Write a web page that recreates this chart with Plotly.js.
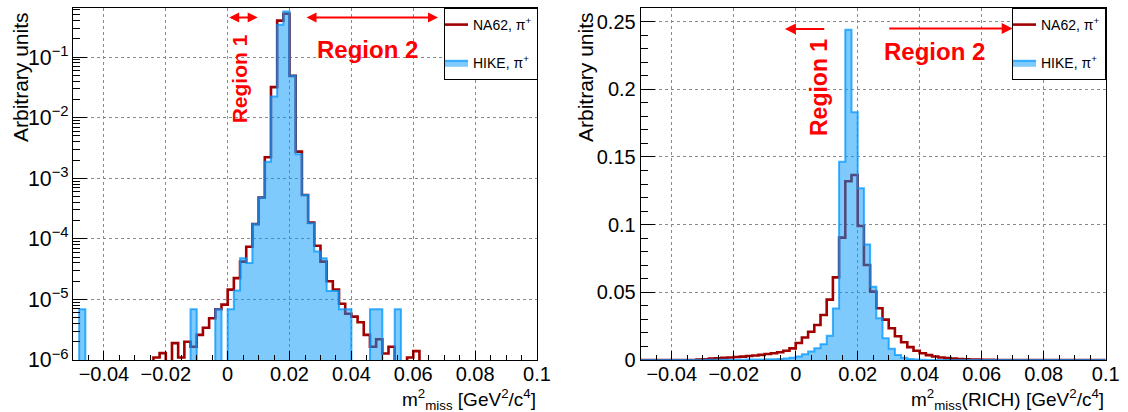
<!DOCTYPE html>
<html><head><meta charset="utf-8">
<script src="https://cdn.plot.ly/plotly-3.0.1.min.js"></script>
<style>html,body{margin:0;padding:0;background:#fff}#chart{width:1128px;height:412px}</style>
</head><body><div id="chart"></div>
<script>
// Histogram binning (both panels): 75 bins of 0.002 from -0.05 to 0.10
const binLow = -0.05;
const binWidth = 0.002;
const nBins = 75;

// Left panel (log scale): m2_miss
const na62Log = [
  0,0,0,0,0,0,0,0,0,0,
  0,0,0,1.1e-6,1.3e-6,0,1.9e-6,1.1e-6,2.0e-6,1.65e-6,
  2.6e-6,3.4e-6,4.9e-6,6.9e-6,8.2e-6,1.45e-5,2.25e-5,4.2e-5,7.4e-5,1.75e-4,
  4.8e-4,2.22e-3,3.19e-2,0.40,0.52,0.049,2.75e-3,5.3e-4,1.85e-4,7.7e-5,
  4.2e-5,2.0e-5,1.46e-5,8.5e-6,5.8e-6,5.2e-6,4.2e-6,2.6e-6,1.65e-6,2.2e-6,
  1.28e-6,1.65e-6,0,0,1.1e-6,1.4e-6,0,0,0,0,
  0,0,0,0,0,0,0,0,0,0,
  0,0,0,0,0
];
const hikeLog = [
  0,6.9e-6,0,0,0,0,0,0,0,0,
  0,0,0,0,0,0,0,0,0,6.9e-6,
  0,0,0,6.9e-6,0,6.9e-6,1.4e-5,4.8e-5,4.0e-5,1.75e-4,
  4.8e-4,1.88e-3,2.23e-2,0.342,0.567,0.049,2.5e-3,5.3e-4,1.8e-4,6.2e-5,
  4.8e-5,1.38e-5,1.38e-5,6.9e-6,6.9e-6,0,0,0,6.9e-6,6.9e-6,
  0,0,6.9e-6,0,0,0,0,0,0,0,
  0,0,0,0,0,0,0,0,0,0,
  0,0,0,0,0
];

// Right panel (linear scale): m2_miss(RICH)
const na62Lin = [
  0,0,0,0,0,0,0,0,0,0.0003,
  0.0006,0.0010,0.0013,0.0016,0.0019,0.0022,0.0025,0.0029,0.0033,0.0038,
  0.0044,0.0050,0.0057,0.0068,0.0086,0.0126,0.0166,0.0209,0.0258,0.0332,
  0.0446,0.0610,0.0904,0.1320,0.1366,0.0990,0.0702,0.0505,0.0382,0.0298,
  0.0234,0.0175,0.0131,0.0095,0.0068,0.0050,0.0036,0.0026,0.0019,0.0014,
  0.0010,0.0007,0.0005,0.0004,0.0003,0.0002,0.0001,0,0,0,
  0,0,0,0,0,0,0,0,0,0,
  0,0,0,0,0
];
const hikeLin = [
  0,0,0,0,0,0,0,0,0,0,
  0.0001,0.0001,0.0001,0.0001,0.0001,0.0002,0.0002,0.0003,0.0003,0.0004,
  0.0005,0.0006,0.0008,0.0011,0.0017,0.0025,0.0042,0.0062,0.0086,0.0116,
  0.0180,0.0380,0.1465,0.2440,0.1830,0.1268,0.0854,0.0541,0.0308,0.0160,
  0.0083,0.0037,0.0016,0.0007,0.0003,0.0001,0,0,0,0,
  0,0,0,0,0,0,0,0,0,0,
  0,0,0,0,0,0,0,0,0,0,
  0,0,0,0,0
];

const seriesNames = ['NA62, π<sup>+</sup>', 'HIKE, π<sup>+</sup>'];
const xTitleLeft = 'm<sup>2</sup><sub>miss</sub> [GeV<sup>2</sup>/c<sup>4</sup>]';
const xTitleRight = 'm<sup>2</sup><sub>miss</sub>(RICH) [GeV<sup>2</sup>/c<sup>4</sup>]';
const yTitle = 'Arbitrary units';

const edges = [];
for (let k = 0; k <= nBins; k++) edges.push(+(binLow + k * binWidth).toFixed(4));

function steps(vals, floor) {
  const xs = [edges[0]], ys = [floor];
  for (let i = 0; i < vals.length; i++) { xs.push(edges[i]); ys.push(vals[i] > 0 ? vals[i] : floor); }
  xs.push(edges[vals.length]); ys.push(vals[vals.length-1] > 0 ? vals[vals.length-1] : floor);
  xs.push(edges[vals.length]); ys.push(floor);
  return {x: xs, y: ys};
}

const RED = '#a00000';
const BLUE_LINE = 'rgba(0,150,255,0.75)';
const BLUE_FILL = 'rgba(0,150,250,0.5)';
const FONT = 'Liberation Sans, Arial, Helvetica, sans-serif';

function redTrace(vals, floor, xa, ya, leg, grp) {
  const s = steps(vals, floor);
  return {type:'scatter', mode:'lines', x:s.x, y:s.y, xaxis:xa, yaxis:ya, name:seriesNames[0],
    line:{shape:'hv', color:RED, width:2.6}, legend:leg, legendgroup:grp, hoverinfo:'skip'};
}
function blueTrace(vals, floor, xa, ya, leg, grp) {
  const s = steps(vals, floor);
  return {type:'scatter', mode:'lines', x:s.x, y:s.y, xaxis:xa, yaxis:ya, name:seriesNames[1],
    line:{shape:'hv', color:BLUE_LINE, width:2}, fill:'toself', fillcolor:BLUE_FILL,
    legend:leg, legendgroup:grp, hoverinfo:'skip'};
}

const data = [
  redTrace(na62Log, 1e-8, 'x', 'y', 'legend', 'a1'),
  blueTrace(hikeLog, 1e-8, 'x', 'y', 'legend', 'a2'),
  redTrace(na62Lin, 0, 'x2', 'y2', 'legend2', 'b1'),
  blueTrace(hikeLin, 0, 'x2', 'y2', 'legend2', 'b2')
];

const W = 1128, H = 412;
const yDom = [1 - 360/H, 1 - 8/H];
const common = {
  ticks:'inside', tickcolor:'black', tickwidth:1, showline:true, linecolor:'black', linewidth:1, mirror:true,
  showgrid:true, gridcolor:'#8a8a8a', griddash:'dot', gridwidth:1, zeroline:false,
  tickfont:{family:FONT, size:20, color:'black'}
};
const xCommon = Object.assign({}, common, {range:[-0.05, 0.1], dtick:0.02, tick0:0, ticklen:9,
  ticklabelstandoff:-4,
  minor:{dtick:0.005, tick0:0, ticks:'inside', ticklen:5, tickcolor:'black', showgrid:false}});

const legendCommon = {xanchor:'right', y:1-8/H, yanchor:'top', bgcolor:'white', bordercolor:'black', borderwidth:1,
  font:{family:FONT, size:14, color:'black'}, traceorder:'grouped', tracegroupgap:17, itemwidth:30, indentation:-12};

const layout = {
  width:W, height:H, margin:{l:0, r:0, t:0, b:0},
  paper_bgcolor:'white', plot_bgcolor:'white',
  font:{family:FONT, color:'black'},
  xaxis:Object.assign({}, xCommon, {domain:[73/W, 537/W], anchor:'y'}),
  yaxis:Object.assign({}, common, {domain:yDom, anchor:'x', type:'log', range:[-6, -0.19], dtick:1,
    exponentformat:'power', showexponent:'all', ticklen:14, tickfont:{family:FONT, size:17, color:'black'},
    minor:{dtick:'D1', ticks:'inside', ticklen:7, tickcolor:'black', showgrid:false}}),
  xaxis2:Object.assign({}, xCommon, {domain:[640.7/W, 1105.7/W], anchor:'y2'}),
  yaxis2:Object.assign({}, common, {domain:yDom, anchor:'x2', range:[0, 0.26], dtick:0.05, tick0:0, ticklen:14,
    minor:{dtick:0.01, tick0:0, ticks:'inside', ticklen:7, tickcolor:'black', showgrid:false}}),
  legend:Object.assign({}, legendCommon, {x:538/W}),
  legend2:Object.assign({}, legendCommon, {x:1106/W}),
  showlegend:true,
  annotations:[
    // axis titles
    {xref:'paper', yref:'paper', x:20/W, y:1-10/H, xanchor:'center', yanchor:'top', textangle:-90, showarrow:false,
      text:yTitle, font:{family:FONT, size:21, color:'black'}},
    {xref:'paper', yref:'paper', x:585/W, y:1-10/H, xanchor:'center', yanchor:'top', textangle:-90, showarrow:false,
      text:yTitle, font:{family:FONT, size:21, color:'black'}},
    {xref:'paper', yref:'paper', x:538/W, y:1-399/H, xanchor:'right', yanchor:'middle', showarrow:false,
      text:xTitleLeft, font:{family:FONT, size:19, color:'black'}},
    {xref:'paper', yref:'paper', x:1106/W, y:1-399/H, xanchor:'right', yanchor:'middle', showarrow:false,
      text:xTitleRight, font:{family:FONT, size:19, color:'black'}},
    // left panel regions
    {xref:'x', yref:'y', x:0.0038, y:-1.36, text:'Region 1', textangle:-90, showarrow:false,
      font:{family:FONT, size:21, color:'red', weight:'bold'}},
    {xref:'x', yref:'y', axref:'x', ayref:'y', x:0.0097, y:-0.345, ax:0.0, ay:-0.345, text:'', showarrow:true,
      arrowside:'end+start', arrowhead:2, startarrowhead:2, arrowsize:1, startarrowsize:1, arrowwidth:2,
      arrowcolor:'red', standoff:0, startstandoff:0},
    {xref:'x', yref:'y', x:0.0453, y:-0.879, text:'Region 2', showarrow:false,
      font:{family:FONT, size:24, color:'red', weight:'bold'}},
    {xref:'x', yref:'y', axref:'x', ayref:'y', x:0.068, y:-0.345, ax:0.025, ay:-0.345, text:'', showarrow:true,
      arrowside:'end+start', arrowhead:2, startarrowhead:2, arrowsize:1, startarrowsize:1, arrowwidth:2,
      arrowcolor:'red', standoff:0, startstandoff:0},
    // right panel regions
    {xref:'x2', yref:'y2', x:0.0075, y:0.2016, text:'Region 1', textangle:-90, showarrow:false,
      font:{family:FONT, size:23, color:'red', weight:'bold'}},
    {xref:'x2', yref:'y2', axref:'x2', ayref:'y2', x:-0.0035, y:0.2445, ax:0.0097, ay:0.2445, text:'', showarrow:true,
      arrowhead:2, arrowsize:1.1, arrowwidth:2, arrowcolor:'red', standoff:0, startstandoff:0},
    {xref:'x2', yref:'y2', x:0.0449, y:0.2282, text:'Region 2', showarrow:false,
      font:{family:FONT, size:24, color:'red', weight:'bold'}},
    {xref:'x2', yref:'y2', axref:'x2', ayref:'y2', x:0.070, y:0.2448, ax:0.0297, ay:0.2448, text:'', showarrow:true,
      arrowhead:2, arrowsize:1.1, arrowwidth:2, arrowcolor:'red', standoff:0, startstandoff:0}
  ]
};

Plotly.newPlot('chart', data, layout, {staticPlot:true, displayModeBar:false});
</script>
</body></html>
